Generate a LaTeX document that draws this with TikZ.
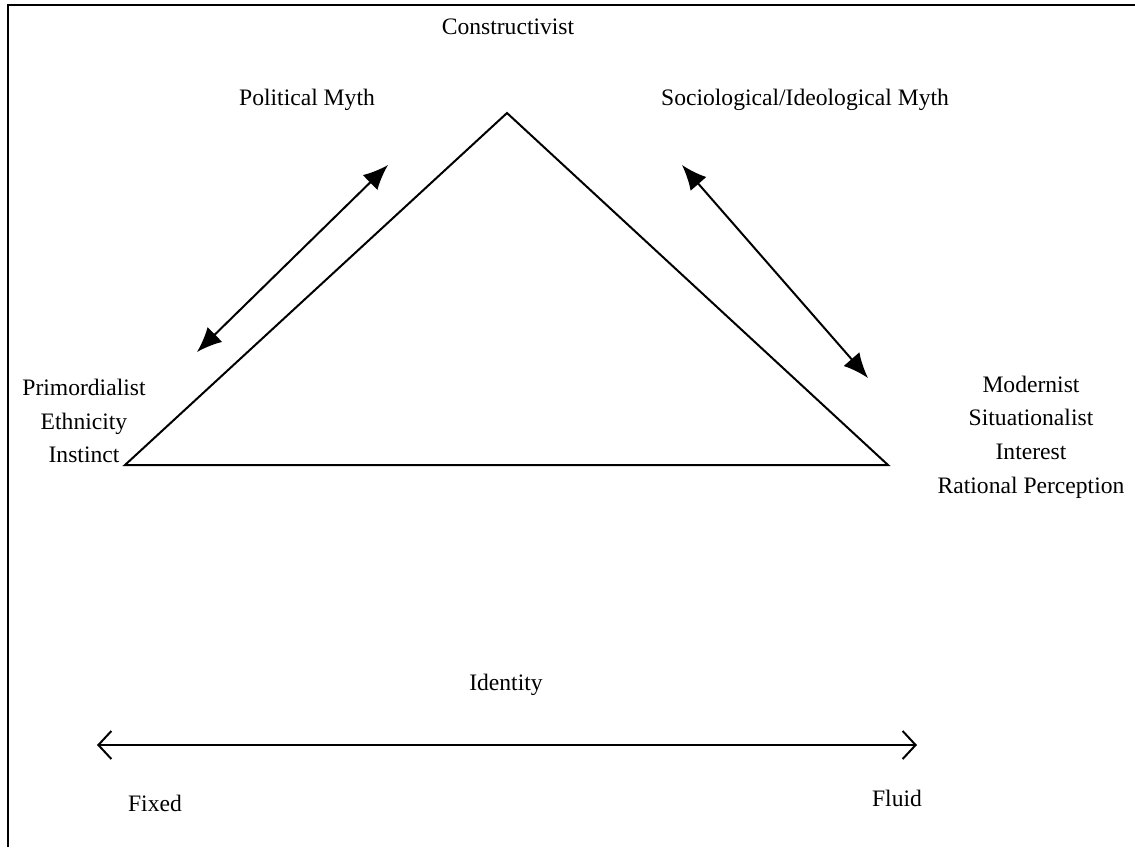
\documentclass[tikz,border=0pt]{standalone}
\usepackage{fontspec}
\setmainfont{Liberation Serif}
\usetikzlibrary{arrows.meta}
\begin{document}
\begin{tikzpicture}[x=0.5pt,y=-0.5pt,
  lbl/.style={font=\fontsize{11.8pt}{16.8pt}\selectfont,align=center,inner sep=0pt},
  tri/.style={line width=1pt,line join=miter},
  myarrow/.style={line width=1pt,{Latex[length=12.5pt,width=10.5pt]}-{Latex[length=12.5pt,width=10.5pt]}},
  openarrow/.style={line width=1pt,{Straight Barb[length=6.5pt,width=14pt,line width=1pt]}-{Straight Barb[length=6.5pt,width=14pt,line width=1pt]}},
  frame/.style={line width=1.2pt}]
\useasboundingbox (0,0) rectangle (1135,847);
% frame (left and top)
\coordinate (fb) at (8,847);
\coordinate (fc) at (8,5);
\coordinate (fr) at (1135,5);
\draw[frame] (fb) -- (fc) -- (fr);
% triangle
\coordinate (apex) at (507,113);
\coordinate (bl) at (125,465);
\coordinate (br) at (888,465);
\draw[tri] (bl) -- (apex) -- (br) -- cycle;
% labels
\node[lbl] (cons) at (508,27) {Constructivist};
\node[lbl] (pol) at (307,100) {Political Myth};
\node[lbl] (soc) at (805,100) {Sociological/Ideological Myth};
\node[lbl] (prim) at (84,421) {Primordialist\\Ethnicity\\Instinct};
\node[lbl] (mod) at (1031,437) {Modernist\\Situationalist\\Interest\\Rational Perception};
\node[lbl] (ident) at (506,685) {Identity};
\node[lbl] (fixed) at (155,803) {Fixed};
\node[lbl] (fluid) at (897,798) {Fluid};
% arrows
\coordinate (la1) at (388,165);
\coordinate (la2) at (197,352);
\coordinate (ra1) at (682,165);
\coordinate (ra2) at (868,378);
\draw[myarrow] (la1) -- (la2);
\draw[myarrow] (ra1) -- (ra2);
\coordinate (ia1) at (97,745);
\coordinate (ia2) at (917,745);
\draw[openarrow] (ia1) -- (ia2);
\end{tikzpicture}
\end{document}
